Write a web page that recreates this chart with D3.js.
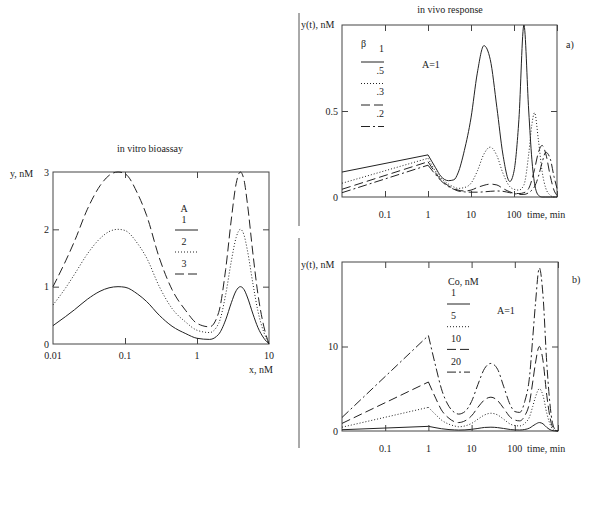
<!DOCTYPE html>
<html>
<head>
<meta charset="utf-8">
<script src="https://cdn.jsdelivr.net/npm/d3@7"></script>
<style>
  body { margin: 0; background: #fff; }
  svg text { font-family: "Liberation Serif", "Times New Roman", serif; font-size: 10px; fill: #222; }
</style>
</head>
<body>
<svg id="chart" width="600" height="530"></svg>
<script>
// in vitro bioassay: x (nM) and y for A = 1, 2, 3
var vitroX = [0.01, 0.015, 0.02, 0.03, 0.045, 0.06, 0.08, 0.1, 0.15, 0.2, 0.3, 0.45, 0.7, 1, 1.5, 2, 2.5, 3, 3.5, 4, 4.5, 5, 6, 7, 8.5, 10];
var vitroA1 = [0.32, 0.48, 0.60, 0.78, 0.92, 0.98, 1.0, 0.99, 0.87, 0.74, 0.5, 0.31, 0.18, 0.1, 0.08, 0.17, 0.42, 0.72, 0.93, 1.0, 0.95, 0.82, 0.52, 0.29, 0.1, 0];
var vitroA2 = [0.68, 0.98, 1.22, 1.57, 1.84, 1.96, 2.0, 1.98, 1.75, 1.5, 1.0, 0.62, 0.38, 0.24, 0.2, 0.36, 0.86, 1.45, 1.86, 2.0, 1.9, 1.64, 1.04, 0.58, 0.2, 0];
var vitroA3 = [1.0, 1.45, 1.8, 2.35, 2.76, 2.94, 3.0, 2.97, 2.62, 2.24, 1.5, 0.95, 0.58, 0.36, 0.3, 0.55, 1.3, 2.18, 2.8, 3.0, 2.86, 2.46, 1.56, 0.88, 0.3, 0];
var vitroLabels = ["1", "2", "3"];

// in vivo response: time (min); first two points are the straight rise 0.01 -> 1
var vivoT = [0.01, 1, 1.5, 2, 3, 4, 5, 7, 10, 14, 20, 28, 40, 55, 80, 100, 130, 170, 220, 260, 300, 370, 450, 550, 700, 850, 1000];

// a) beta = 1, .5, .3, .2
var betaLabels = ["1", ".5", ".3", ".2"];
var beta1  = [0.145, 0.245, 0.17, 0.12, 0.095, 0.10, 0.14, 0.27, 0.46, 0.72, 0.88, 0.80, 0.52, 0.25, 0.09, 0.15, 0.45, 1.0, 0.5, 0.22, 0.08, 0.01, 0, 0, 0, 0, 0];
var beta05 = [0.08, 0.225, 0.15, 0.11, 0.075, 0.058, 0.05, 0.055, 0.08, 0.15, 0.25, 0.29, 0.24, 0.14, 0.06, 0.045, 0.04, 0.07, 0.25, 0.42, 0.49, 0.33, 0.15, 0.05, 0.01, 0, 0];
var beta03 = [0.045, 0.205, 0.14, 0.10, 0.065, 0.048, 0.04, 0.035, 0.04, 0.055, 0.068, 0.075, 0.07, 0.05, 0.03, 0.022, 0.02, 0.025, 0.05, 0.1, 0.16, 0.26, 0.30, 0.25, 0.12, 0.04, 0.01];
var beta02 = [0.025, 0.185, 0.13, 0.095, 0.06, 0.045, 0.035, 0.03, 0.028, 0.028, 0.03, 0.033, 0.035, 0.033, 0.025, 0.02, 0.015, 0.015, 0.025, 0.04, 0.06, 0.12, 0.2, 0.26, 0.22, 0.12, 0.05];

// b) Co = 1, 5, 10, 20 nM
var coLabels = ["1", "5", "10", "20"];
var co1  = [0.15, 0.55, 0.38, 0.27, 0.17, 0.13, 0.11, 0.13, 0.2, 0.3, 0.42, 0.45, 0.4, 0.3, 0.17, 0.13, 0.12, 0.18, 0.35, 0.6, 0.8, 1.0, 0.85, 0.42, 0.09, 0.01, 0];
var co5  = [0.45, 2.8, 1.9, 1.3, 0.8, 0.6, 0.5, 0.6, 0.9, 1.4, 1.9, 2.1, 1.9, 1.4, 0.8, 0.65, 0.6, 0.9, 1.7, 2.9, 4.0, 5.0, 4.2, 2.1, 0.45, 0.05, 0];
var co10 = [0.9, 5.8, 3.8, 2.5, 1.5, 1.1, 1.0, 1.2, 1.8, 2.8, 3.7, 4.0, 3.6, 2.7, 1.6, 1.3, 1.2, 1.8, 3.4, 5.8, 8.0, 10.0, 8.3, 4.2, 0.9, 0.1, 0];
var co20 = [1.6, 11.3, 7.5, 5.0, 2.9, 2.2, 2.0, 2.3, 3.5, 5.5, 7.4, 8.0, 7.3, 5.3, 3.0, 2.3, 2.2, 3.5, 6.5, 11.0, 15.0, 19.3, 16.0, 8.0, 1.8, 0.2, 0];

var DASH = { solid: null, dot: "1,2", dash: "9,4", dashdot: "9,3,2,3" };
var INK = "#222";

var svg = d3.select("#chart");

function panel(box, xDomain, yDomain) {
  var x = d3.scaleLog().domain(xDomain).range([box.x0, box.x1]);
  var y = d3.scaleLinear().domain(yDomain).range([box.y1, box.y0]);
  return { x: x, y: y, box: box };
}

function frame(p, xTicks, yTicks) {
  var b = p.box;
  svg.append("rect")
    .attr("x", b.x0).attr("y", b.y0)
    .attr("width", b.x1 - b.x0).attr("height", b.y1 - b.y0)
    .attr("fill", "none").attr("stroke", "#444").attr("stroke-width", 1);
  var axes = [
    [d3.axisBottom(p.x).tickValues(xTicks), "translate(0," + b.y1 + ")"],
    [d3.axisTop(p.x).tickValues(xTicks), "translate(0," + b.y0 + ")"],
    [d3.axisLeft(p.y).tickValues(yTicks), "translate(" + b.x0 + ",0)"],
    [d3.axisRight(p.y).tickValues(yTicks), "translate(" + b.x1 + ",0)"]
  ];
  axes.forEach(function (a) {
    var g = svg.append("g").attr("transform", a[1])
      .call(a[0].tickSize(-6).tickFormat(""));
    g.select(".domain").remove();
    g.selectAll("line").attr("stroke", "#444");
  });
}

function tickLabels(p, xVals, xFmt, yVals, yFmt, xOff) {
  svg.append("g").selectAll("text").data(xVals).join("text")
    .attr("x", function (d) { return p.x(d); })
    .attr("y", p.box.y1 + xOff)
    .attr("text-anchor", "middle")
    .text(xFmt);
  svg.append("g").selectAll("text").data(yVals).join("text")
    .attr("x", p.box.x0 - 4)
    .attr("y", function (d) { return p.y(d) + 3.5; })
    .attr("text-anchor", "end")
    .text(yFmt);
}

function curve(p, xs, ys, dash, split) {
  var pts = xs.map(function (d, i) { return [p.x(d), p.y(ys[i])]; });
  var parts = split ? [[pts.slice(0, 2), d3.curveLinear], [pts.slice(1), d3.curveMonotoneX]]
                    : [[pts, d3.curveMonotoneX]];
  parts.forEach(function (pp) {
    svg.append("path")
      .attr("d", d3.line().curve(pp[1])(pp[0]))
      .attr("fill", "none")
      .attr("stroke", INK)
      .attr("stroke-width", 1)
      .attr("stroke-dasharray", dash);
  });
}

function legendLine(x0, x1, y, dash) {
  svg.append("line")
    .attr("x1", x0).attr("x2", x1).attr("y1", y).attr("y2", y)
    .attr("stroke", INK).attr("stroke-width", 1)
    .attr("stroke-dasharray", dash);
}

function label(x, y, txt, anchor) {
  svg.append("text").attr("x", x).attr("y", y)
    .attr("text-anchor", anchor || "start").text(txt);
}

// ---------- in vitro bioassay ----------
var pv = panel({ x0: 53, x1: 269, y0: 172, y1: 344 }, [0.01, 10], [0, 3]);
frame(pv, [0.1, 1], [1, 2]);
tickLabels(pv, [0.01, 0.1, 1, 10], function (d) { return String(d); }, [0, 1, 2, 3], function (d) { return d; }, 15);
label(150, 152, "in vitro bioassay", "middle");
label(10, 177, "y, nM");
label(273, 373, "x, nM", "end");

curve(pv, vitroX, vitroA1, DASH.solid);
curve(pv, vitroX, vitroA2, DASH.dot);
curve(pv, vitroX, vitroA3, DASH.dash);

label(184, 212, "A", "middle");
var vitroDash = [DASH.solid, DASH.dot, DASH.dash];
vitroLabels.forEach(function (t, i) {
  label(184, 223 + i * 22, t, "middle");
  legendLine(175, 198, 230 + i * 22, vitroDash[i]);
});

// ---------- a) in vivo, beta ----------
var pa = panel({ x0: 342, x1: 557, y0: 25, y1: 197 }, [0.01, 1000], [0, 1]);
frame(pa, [0.1, 1, 10, 100, 1000], [0.5]);
tickLabels(pa, [0.1, 1, 10, 100], function (d) { return String(d); }, [0, 0.5], function (d) { return d; }, 21);
label(450, 13, "in vivo response", "middle");
label(301, 28, "y(t), nM");
label(527, 218, "time, min");
label(566, 48, "a)");
label(422, 68, "A=1");

curve(pa, vivoT, beta1, DASH.solid, true);
curve(pa, vivoT, beta05, DASH.dot, true);
curve(pa, vivoT, beta03, DASH.dash, true);
curve(pa, vivoT, beta02, DASH.dashdot, true);

label(361, 47, "\u03b2");
var betaDash = [DASH.solid, DASH.dot, DASH.dash, DASH.dashdot];
betaLabels.forEach(function (t, i) {
  label(384, 52 + i * 21.5, t, "end");
  legendLine(361, 384, 62 + i * 21.5, betaDash[i]);
});

// ---------- b) in vivo, Co ----------
var pb = panel({ x0: 342, x1: 558, y0: 262, y1: 431 }, [0.01, 1000], [0, 20]);
frame(pb, [0.1, 1, 10, 100, 1000], [10]);
tickLabels(pb, [0.1, 1, 10, 100], function (d) { return String(d); }, [0, 10], function (d) { return d; }, 21);
label(301, 268, "y(t), nM");
label(527, 452, "time, min");
label(572, 283, "b)");
label(497, 314, "A=1");

curve(pb, vivoT, co1, DASH.solid, true);
curve(pb, vivoT, co5, DASH.dot, true);
curve(pb, vivoT, co10, DASH.dash, true);
curve(pb, vivoT, co20, DASH.dashdot, true);

label(448, 285, "Co, nM");
var coDash = [DASH.solid, DASH.dot, DASH.dash, DASH.dashdot];
coLabels.forEach(function (t, i) {
  label(451, 296 + i * 23, t);
  legendLine(447, 470, 304 + i * 22.7, coDash[i]);
});

// region borders at the left of the right-hand plots
svg.append("line").attr("x1", 299).attr("x2", 299).attr("y1", 13).attr("y2", 226)
  .attr("stroke", "#555").attr("stroke-width", 1);
svg.append("line").attr("x1", 299).attr("x2", 299).attr("y1", 238).attr("y2", 448)
  .attr("stroke", "#555").attr("stroke-width", 1);
</script>
</body>
</html>
